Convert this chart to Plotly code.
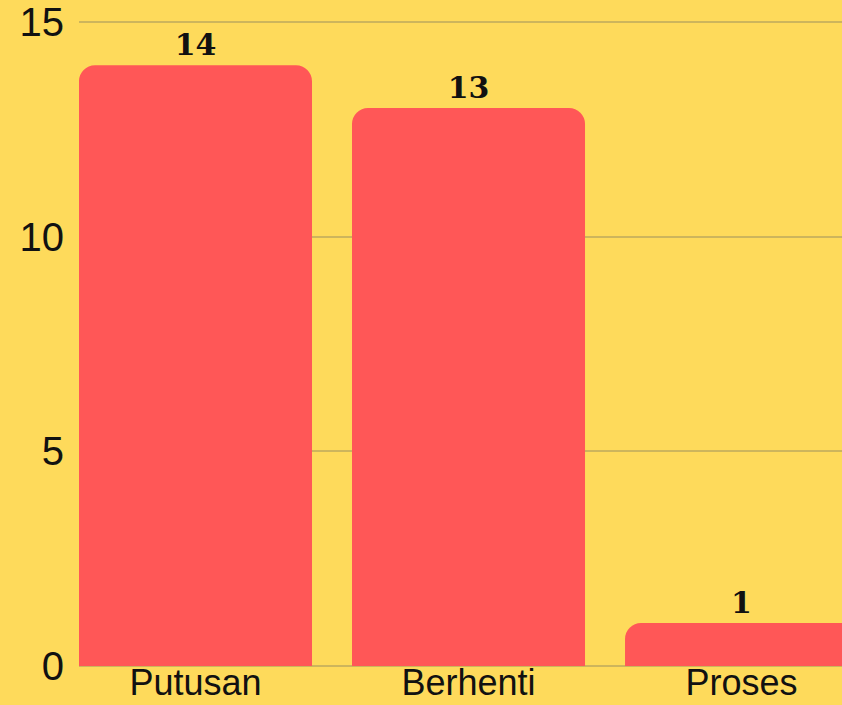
import plotly.graph_objects as go

categories = ["Putusan", "Berhenti", "Proses"]
values = [14, 13, 1]
y_ticks = [0, 5, 10, 15]

bg = "#FEDA5B"
bar_color = "#FF5757"
grid_color = "#CDB55C"

fig = go.Figure(
    go.Bar(
        x=categories,
        y=values,
        marker=dict(color=bar_color, cornerradius=16, line=dict(width=0)),
        text=[str(v) for v in values],
        textposition="outside",
        textfont=dict(family="DejaVu Serif", size=30, color="#111111", weight="bold"),
        cliponaxis=False,
    )
)

fig.update_layout(
    width=842,
    height=705,
    paper_bgcolor=bg,
    plot_bgcolor=bg,
    margin=dict(l=79, r=0, t=21, b=39, autoexpand=False),
    bargap=0.1465,
    showlegend=False,
    xaxis=dict(
        range=[-0.4267, 2.368],
        showgrid=False,
        showline=False,
        zeroline=False,
        ticks="",
        automargin=False,
        ticklabelstandoff=-8,
        tickfont=dict(family="Liberation Sans", size=36, color="#111111"),
    ),
    yaxis=dict(
        range=[0, 15.03],
        tickvals=y_ticks,
        showgrid=True,
        gridcolor=grid_color,
        gridwidth=1.5,
        zeroline=True,
        zerolinecolor=grid_color,
        zerolinewidth=1.5,
        showline=False,
        ticks="",
        automargin=False,
        ticklabelstandoff=14,
        tickfont=dict(family="Liberation Sans", size=40, color="#111111"),
    ),
)

fig.write_html("out.html", config={"displayModeBar": False})

with open("out.html", "r", encoding="utf-8") as f:
    html = f.read()
html = html.replace("<head>", "<head><style>html,body{margin:0;padding:0;overflow:hidden;}</style>", 1)
with open("out.html", "w", encoding="utf-8") as f:
    f.write(html)
